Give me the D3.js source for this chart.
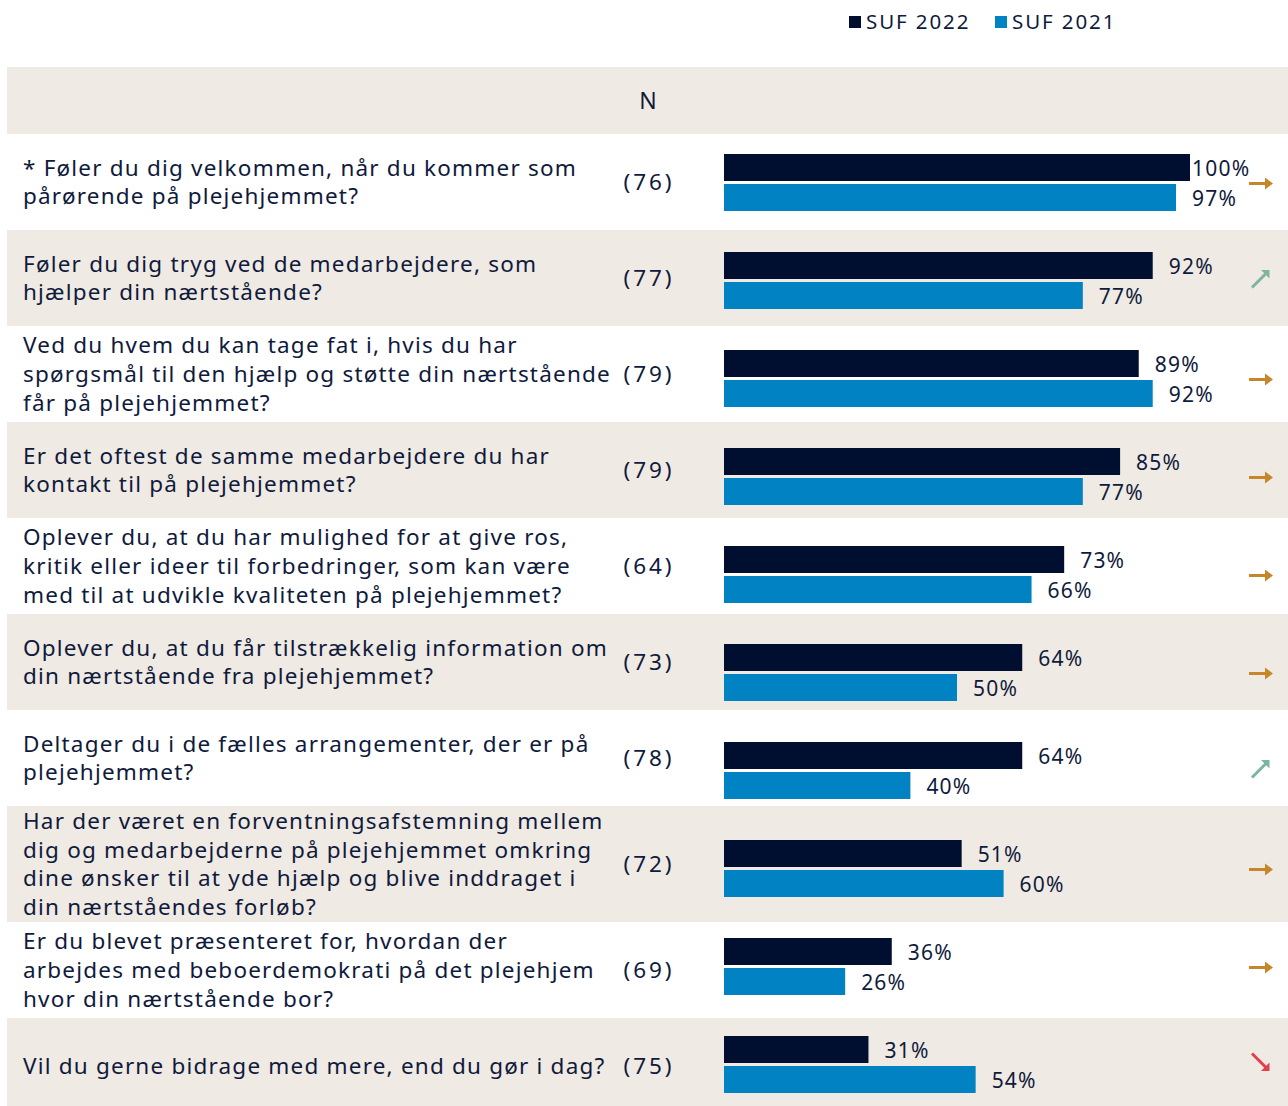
<!DOCTYPE html>
<html>
<head>
<meta charset="utf-8">
<script src="https://cdn.jsdelivr.net/npm/d3@7"></script>
<style>
  body { margin: 0; background: #fff; }
  svg { display: block; font-family: "Noto Sans", sans-serif; }
</style>
</head>
<body>
<svg id="drawing_region"></svg>
<script>
// question text, one entry per line
const questions = [
    ["* Føler du dig velkommen, når du kommer som", "pårørende på plejehjemmet?"],
    ["Føler du dig tryg ved de medarbejdere, som", "hjælper din nærtstående?"],
    ["Ved du hvem du kan tage fat i, hvis du har", "spørgsmål til den hjælp og støtte din nærtstående", "får på plejehjemmet?"],
    ["Er det oftest de samme medarbejdere du har", "kontakt til på plejehjemmet?"],
    ["Oplever du, at du har mulighed for at give ros,", "kritik eller ideer til forbedringer, som kan være", "med til at udvikle kvaliteten på plejehjemmet?"],
    ["Oplever du, at du får tilstrækkelig information om", "din nærtstående fra plejehjemmet?"],
    ["Deltager du i de fælles arrangementer, der er på", "plejehjemmet?"],
    ["Har der været en forventningsafstemning mellem", "dig og medarbejderne på plejehjemmet omkring", "dine ønsker til at yde hjælp og blive inddraget i", "din nærtståendes forløb?"],
    ["Er du blevet præsenteret for, hvordan der", "arbejdes med beboerdemokrati på det plejehjem", "hvor din nærtstående bor?"],
    ["Vil du gerne bidrage med mere, end du gør i dag?"]
];
const n_values = [76, 77, 79, 79, 64, 73, 78, 72, 69, 75];
const suf2022 = [100, 92, 89, 85, 73, 64, 64, 51, 36, 31];
const suf2021 = [97, 77, 92, 77, 66, 50, 40, 60, 26, 54];
const trends = ["flat", "up", "flat", "flat", "flat", "flat", "up", "flat", "flat", "down"];
const series_names = ["SUF 2022", "SUF 2021"];

const config = {
    width: 1288,
    height: 1106,
    left: 7,
    header_top: 67,
    header_height: 67,
    row_height: 96,
    line_height: 28.7,
    text_x: 23,
    n_x: 648,
    bar_x0: 724,
    bar_x1: 1190,
    bar_h: 27,
    bar_gap: 3,
    arrow_x: 1261
};

const colors = {
    text: "#0f1a3c",
    beige: "#efeae3",
    s2022: "#000f2f",
    s2021: "#0082c3",
    flat: "#c8862a",
    up: "#7db5a0",
    down: "#e2404b"
};

const svg = d3.select("#drawing_region")
    .attr("width", config.width)
    .attr("height", config.height);

// legend
const legend = svg.append("g");
const legend_x = [849, 995];
series_names.forEach((name, i) => {
    legend.append("rect")
        .attr("x", legend_x[i]).attr("y", 16)
        .attr("width", 12).attr("height", 12)
        .attr("fill", i === 0 ? colors.s2022 : colors.s2021);
    legend.append("text")
        .attr("x", legend_x[i] + 17).attr("y", 22)
        .attr("dy", "0.36em")
        .attr("font-size", 20.5)
        .attr("letter-spacing", 1.9)
        .attr("fill", colors.text)
        .text(name);
});

// header band
svg.append("rect")
    .attr("x", config.left).attr("y", config.header_top)
    .attr("width", config.width - config.left).attr("height", config.header_height)
    .attr("fill", colors.beige);
svg.append("text")
    .attr("x", config.n_x).attr("y", config.header_top + config.header_height / 2)
    .attr("dy", "0.36em")
    .attr("text-anchor", "middle")
    .attr("font-size", 23)
    .attr("fill", colors.text)
    .text("N");

// row bands: height grows with number of text lines
const row_heights = questions.map(q => Math.max(config.row_height, q.length * 29));
const row_tops = [];
let acc = config.header_top + config.header_height;
row_heights.forEach(h => { row_tops.push(acc); acc += h; });

const rows = svg.selectAll("g.row")
    .data(questions.map((q, i) => ({ q, i })))
    .join("g")
    .attr("class", "row");

rows.append("rect")
    .attr("x", config.left)
    .attr("y", d => row_tops[d.i])
    .attr("width", config.width - config.left)
    .attr("height", d => row_heights[d.i])
    .attr("fill", d => d.i % 2 === 1 ? colors.beige : "#fff");

rows.each(function(d) {
    const g = d3.select(this);
    const cy = row_tops[d.i] + row_heights[d.i] / 2;
    const y0 = cy - (d.q.length - 1) * config.line_height / 2;
    const t = g.append("text")
        .attr("font-size", 22.5)
        .attr("letter-spacing", 1.2)
        .attr("fill", colors.text);
    d.q.forEach((line, k) => {
        t.append("tspan")
            .attr("x", config.text_x)
            .attr("y", y0 + k * config.line_height)
            .attr("dy", "0.36em")
            .text(line);
    });
    g.append("text")
        .attr("x", config.n_x + 1).attr("y", cy)
        .attr("dy", "0.36em")
        .attr("text-anchor", "middle")
        .attr("font-size", 22.5)
        .attr("letter-spacing", 3)
        .attr("fill", colors.text)
        .text(`(${n_values[d.i]})`);
});

// bars
const xscale = d3.scaleLinear()
    .domain([0, 100])
    .range([config.bar_x0, config.bar_x1]);

const yscale = d3.scaleBand()
    .domain(d3.range(questions.length))
    .range([133.5, 133.5 + 98 * questions.length]);

const yinner = d3.scaleBand()
    .domain(series_names)
    .range([0, config.bar_h * 2 + config.bar_gap])
    .paddingInner(config.bar_gap / (config.bar_h + config.bar_gap));

const bar_data = [];
questions.forEach((q, i) => {
    bar_data.push({ i, s: series_names[0], v: suf2022[i], c: colors.s2022 });
    bar_data.push({ i, s: series_names[1], v: suf2021[i], c: colors.s2021 });
});

const off = (yscale.bandwidth() - (config.bar_h * 2 + config.bar_gap)) / 2;

svg.selectAll("rect.bar")
    .data(bar_data)
    .join("rect")
    .attr("class", "bar")
    .attr("x", xscale(0))
    .attr("y", d => yscale(d.i) + off + yinner(d.s))
    .attr("width", d => xscale(d.v) - xscale(0))
    .attr("height", yinner.bandwidth())
    .attr("fill", d => d.c);

svg.selectAll("text.val")
    .data(bar_data)
    .join("text")
    .attr("class", "val")
    .attr("x", d => Math.min(xscale(d.v) + 16, xscale(100) + 2))
    .attr("y", d => yscale(d.i) + off + yinner(d.s) + yinner.bandwidth() / 2 + 1)
    .attr("dy", "0.36em")
    .attr("font-size", 21)
    .attr("letter-spacing", 1.2)
    .attr("fill", colors.text)
    .text(d => d.v + "%");

// trend arrows
const arrow_path = {
    flat: "M-12,0 L6,0",
    up: "M-9,9 L5,-5",
    down: "M-9,-9 L5,5"
};
const arrow_head = {
    flat: "M4,-6 L12,0 L4,6 Z",
    up: "M0,-8.5 L8.5,-8.5 L8.5,0 Z",
    down: "M8.5,0 L8.5,8.5 L0,8.5 Z"
};
const arrows = svg.selectAll("g.arrow")
    .data(trends.map((t, i) => ({ t, i })))
    .join("g")
    .attr("class", "arrow")
    .attr("transform", d => `translate(${config.arrow_x}, ${yscale(d.i) + yscale.bandwidth() / 2 + (d.t === "flat" ? 1 : -2)})`);
arrows.append("path")
    .attr("d", d => arrow_path[d.t])
    .attr("stroke", d => colors[d.t])
    .attr("stroke-width", 3)
    .attr("fill", "none");
arrows.append("path")
    .attr("d", d => arrow_head[d.t])
    .attr("fill", d => colors[d.t]);
</script>
</body>
</html>
